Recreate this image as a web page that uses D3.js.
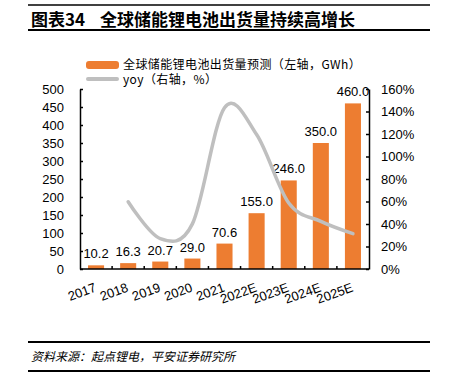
<!DOCTYPE html>
<html>
<head>
<meta charset="utf-8">
<script src="https://cdn.jsdelivr.net/npm/d3@7/dist/d3.min.js"></script>
<style>
  body { margin: 0; background: #fff; }
  text { font-family: "Liberation Sans", Arial, "Noto Sans CJK SC", sans-serif; }
  .cjk { font-family: "Noto Sans CJK SC", sans-serif; }
</style>
</head>
<body>
<div id="chart"></div>
<script>
// data
var years = ["2017", "2018", "2019", "2020", "2021", "2022E", "2023E", "2024E", "2025E"];
var shipments = [10.2, 16.3, 20.7, 29.0, 70.6, 155.0, 246.0, 350.0, 460.0];
var yoyYears = ["2018", "2019", "2020", "2021", "2022E", "2023E", "2024E", "2025E"];
var yoy = [59.8, 27.0, 40.1, 143.4, 119.5, 58.7, 42.3, 31.4];
var leftTicks = [0, 50, 100, 150, 200, 250, 300, 350, 400, 450, 500];
var rightTicks = [0, 20, 40, 60, 80, 100, 120, 140, 160];

var width = 450, height = 372;
var svg = d3.select("#chart").append("svg")
    .attr("width", width)
    .attr("height", height);

// header
svg.append("line").attr("x1", 28).attr("x2", 430).attr("y1", 5).attr("y2", 5)
    .attr("stroke", "#000").attr("stroke-width", 1.5);
svg.append("text").attr("class", "cjk").attr("x", 31).attr("y", 26)
    .attr("font-size", 17).attr("font-weight", "bold").text("图表34");
svg.append("text").attr("class", "cjk").attr("x", 100).attr("y", 26)
    .attr("font-size", 17).attr("font-weight", "bold").text("全球储能锂电池出货量持续高增长");
svg.append("line").attr("x1", 28).attr("x2", 430).attr("y1", 30).attr("y2", 30)
    .attr("stroke", "#000").attr("stroke-width", 2);

// scales
var m = { left: 80, right: 369, top: 89, bottom: 269 };
var x = d3.scaleBand().domain(years).range([m.left, m.right]).paddingInner(0.5).paddingOuter(0.25);
var y = d3.scaleLinear().domain([0, 500]).range([m.bottom, m.top]);
var y2 = d3.scaleLinear().domain([0, 160]).range([m.bottom, m.top]);

// bars
svg.selectAll("rect.bar").data(shipments).enter().append("rect")
    .attr("class", "bar")
    .attr("x", function (d, i) { return x(years[i]); })
    .attr("y", function (d) { return y(d); })
    .attr("width", x.bandwidth())
    .attr("height", function (d) { return m.bottom - y(d); })
    .attr("fill", "#ED7D31");

svg.selectAll("text.val").data(shipments).enter().append("text")
    .attr("class", "val")
    .attr("x", function (d, i) { return x(years[i]) + x.bandwidth() / 2; })
    .attr("y", function (d) { return y(d) - 7; })
    .attr("text-anchor", "middle")
    .attr("font-size", 13)
    .text(function (d) { return d.toFixed(1); });

// yoy line
var line = d3.line()
    .x(function (d, i) { return x(yoyYears[i]) + x.bandwidth() / 2; })
    .y(function (d) { return y2(d); })
    .curve(d3.curveCardinal.tension(0));
svg.append("path").datum(yoy)
    .attr("d", line)
    .attr("fill", "none")
    .attr("stroke", "#BFBFBF")
    .attr("stroke-width", 3.5)
    .attr("stroke-linecap", "round");

// axes
var yAxis = d3.axisLeft(y).tickValues(leftTicks).tickSizeInner(-3).tickSizeOuter(0).tickPadding(16);
var gy = svg.append("g").attr("transform", "translate(" + m.left + ",0)").call(yAxis);
gy.selectAll("text").attr("font-size", 13).attr("fill", "#000");

var y2Axis = d3.axisRight(y2).tickValues(rightTicks).tickSizeInner(-3).tickSizeOuter(0).tickPadding(12)
    .tickFormat(function (d) { return d + "%"; });
var gy2 = svg.append("g").attr("transform", "translate(" + m.right + ",0)").call(y2Axis);
gy2.selectAll("text").attr("font-size", 13).attr("fill", "#000");

svg.selectAll(".domain").attr("stroke", "#000").attr("stroke-width", 1.5);
svg.selectAll(".tick line").attr("stroke", "#000").attr("stroke-width", 1.5);

// x axis
svg.append("line").attr("x1", m.left).attr("x2", m.right).attr("y1", m.bottom).attr("y2", m.bottom)
    .attr("stroke", "#000").attr("stroke-width", 1.5);
svg.selectAll("line.xtick").data(years.slice(1)).enter().append("line")
    .attr("class", "xtick")
    .attr("x1", function (d) { return x(d) - x.step() * x.paddingInner() / 2; })
    .attr("x2", function (d) { return x(d) - x.step() * x.paddingInner() / 2; })
    .attr("y1", m.bottom).attr("y2", m.bottom - 3)
    .attr("stroke", "#000").attr("stroke-width", 1.5);
svg.selectAll("text.xlab").data(years).enter().append("text")
    .attr("class", "xlab")
    .attr("text-anchor", "end")
    .attr("font-size", 13)
    .attr("transform", function (d) {
        return "translate(" + (x(d) + x.bandwidth() / 2 + 1) + "," + (m.bottom + 22) + ") rotate(-20)";
    })
    .text(function (d) { return d; });

// legend
svg.append("rect").attr("x", 86).attr("y", 61).attr("width", 33).attr("height", 8)
    .attr("rx", 3).attr("fill", "#ED7D31");
svg.append("text").attr("class", "cjk").attr("x", 123).attr("y", 69)
    .attr("font-size", 12).attr("letter-spacing", 0.4).text("全球储能锂电池出货量预测（左轴，GWh）");
svg.append("line").attr("x1", 88).attr("x2", 117).attr("y1", 79).attr("y2", 79)
    .attr("stroke", "#BFBFBF").attr("stroke-width", 4).attr("stroke-linecap", "round");
svg.append("text").attr("class", "cjk").attr("x", 123).attr("y", 84)
    .attr("font-size", 12).attr("letter-spacing", 0.4).text("yoy（右轴，%）");

// footer
svg.append("line").attr("x1", 28).attr("x2", 430).attr("y1", 342).attr("y2", 342)
    .attr("stroke", "#000").attr("stroke-width", 2);
svg.append("text").attr("class", "cjk").attr("x", 31).attr("y", 361)
    .attr("font-size", 12).attr("font-style", "italic").text("资料来源：起点锂电，平安证券研究所");
svg.append("line").attr("x1", 28).attr("x2", 430).attr("y1", 371).attr("y2", 371)
    .attr("stroke", "#000").attr("stroke-width", 2);
</script>
</body>
</html>
